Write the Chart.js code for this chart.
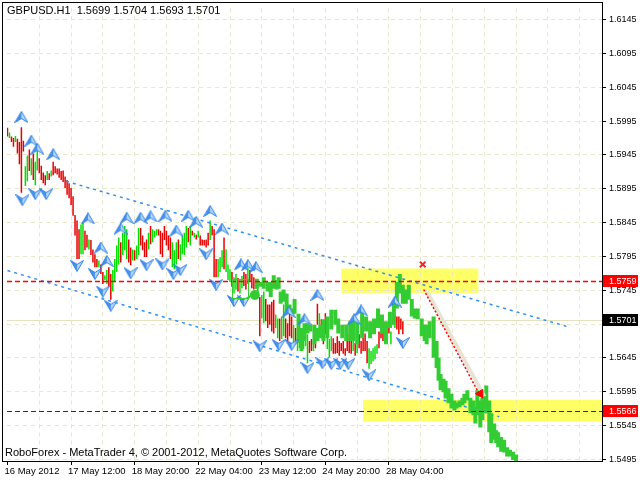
<!DOCTYPE html>
<html>
<head>
<meta charset="utf-8">
<script src="https://cdn.jsdelivr.net/npm/chart.js@4.4.0/dist/chart.umd.min.js"></script>
<style>
  html, body { margin: 0; padding: 0; background: #fff; }
</style>
</head>
<body>
<canvas id="myChart" width="640" height="480"></canvas>
<script>
// GBPUSD H1 bars, one per hour (bar index = hour)
var highs = [
  1.5985,1.5978,1.5972,1.5970,1.5973,1.5969,1.5964,1.5986,1.5966,1.5928,
  1.5944,1.5953,1.5940,1.5947,1.5935,1.5951,1.5940,1.5929,1.5919,1.5915,
  1.5921,1.5918,1.5922,1.5935,1.5928,1.5925,1.5925,1.5921,1.5922,1.5913,
  1.5908,1.5903,1.5896,1.5884,1.5856,1.5848,1.5835,1.5842,1.5845,1.5833,
  1.5827,1.5820,1.5819,1.5805,1.5798,1.5791,1.5789,1.5783,1.5772,1.5767,
  1.5775,1.5779,1.5769,1.5775,1.5791,1.5811,1.5823,1.5816,1.5830,1.5840,
  1.5835,1.5820,1.5808,1.5805,1.5804,1.5811,1.5837,1.5837,1.5826,1.5816,
  1.5820,1.5830,1.5840,1.5835,1.5833,1.5835,1.5835,1.5833,1.5830,1.5840,
  1.5833,1.5826,1.5823,1.5816,1.5804,1.5816,1.5820,1.5813,1.5826,1.5830,
  1.5840,1.5837,1.5840,1.5833,1.5830,1.5827,1.5833,1.5826,1.5820,1.5819,
  1.5820,1.5830,1.5848,1.5840,1.5835,1.5791,1.5791,1.5794,1.5804,1.5823,
  1.5805,1.5783,1.5776,1.5772,1.5764,1.5769,1.5763,1.5760,1.5766,1.5772,
  1.5769,1.5778,1.5775,1.5769,1.5764,1.5761,1.5757,1.5735,1.5738,1.5743,
  1.5732,1.5724,1.5724,1.5728,1.5731,1.5709,1.5703,1.5703,1.5706,1.5724,
  1.5703,1.5696,1.5713,1.5706,1.5694,1.5689,1.5684,1.5680,1.5677,1.5680,
  1.5684,1.5680,1.5670,1.5673,1.5670,1.5677,1.5725,1.5711,1.5702,1.5699,
  1.5711,1.5687,1.5673,1.5677,1.5674,1.5667,1.5677,1.5670,1.5667,1.5670,
  1.5659,1.5670,1.5680,1.5670,1.5670,1.5667,1.5670,1.5680,1.5670,1.5687,
  1.5681,1.5670,1.5659,1.5655,1.5659,1.5662,1.5665,1.5684,1.5694,1.5696,
  1.5692,1.5692,1.5692,1.5684,1.5718,1.5709,1.5706,1.5706,1.5703,1.5699
];
var lows = [
  1.5972,1.5970,1.5964,1.5957,1.5964,1.5947,1.5931,1.5889,1.5950,1.5899,
  1.5906,1.5921,1.5915,1.5908,1.5900,1.5922,1.5918,1.5908,1.5903,1.5900,
  1.5908,1.5908,1.5913,1.5915,1.5918,1.5916,1.5911,1.5908,1.5905,1.5896,
  1.5886,1.5881,1.5871,1.5855,1.5826,1.5791,1.5791,1.5798,1.5798,1.5804,
  1.5808,1.5805,1.5797,1.5786,1.5779,1.5779,1.5779,1.5769,1.5754,1.5760,
  1.5754,1.5750,1.5731,1.5743,1.5757,1.5772,1.5783,1.5786,1.5797,1.5804,
  1.5791,1.5786,1.5782,1.5789,1.5789,1.5791,1.5797,1.5811,1.5804,1.5794,
  1.5794,1.5805,1.5813,1.5816,1.5823,1.5826,1.5826,1.5798,1.5794,1.5819,
  1.5811,1.5804,1.5791,1.5779,1.5776,1.5783,1.5791,1.5789,1.5798,1.5797,
  1.5808,1.5816,1.5811,1.5826,1.5823,1.5820,1.5823,1.5811,1.5811,1.5811,
  1.5808,1.5811,1.5819,1.5826,1.5764,1.5764,1.5764,1.5772,1.5779,1.5776,
  1.5772,1.5760,1.5757,1.5750,1.5740,1.5746,1.5743,1.5740,1.5748,1.5751,
  1.5746,1.5754,1.5757,1.5748,1.5746,1.5747,1.5735,1.5677,1.5703,1.5696,
  1.5699,1.5689,1.5694,1.5684,1.5681,1.5689,1.5674,1.5670,1.5673,1.5677,
  1.5674,1.5670,1.5677,1.5674,1.5665,1.5665,1.5655,1.5659,1.5655,1.5658,
  1.5662,1.5637,1.5652,1.5655,1.5655,1.5659,1.5694,1.5689,1.5680,1.5665,
  1.5680,1.5658,1.5645,1.5655,1.5651,1.5651,1.5652,1.5648,1.5655,1.5651,
  1.5648,1.5655,1.5652,1.5651,1.5655,1.5648,1.5652,1.5659,1.5651,1.5655,
  1.5655,1.5637,1.5629,1.5636,1.5640,1.5643,1.5651,1.5659,1.5674,1.5670,
  1.5677,1.5681,1.5681,1.5665,1.5699,1.5689,1.5687,1.5680,1.5687,1.5680
];
// g = bar closed up, r = closed down
var dirs = "rgrrgrrrrg" + "grgrggrrrr" + "grgrrrrrrr" + "rrrrrrrggr" + "rgrrrrgrrg" +
           "grrggggrgg" + "grrgrggrrr" + "rgrgggrrrr" + "rrrgggrggg" + "grgrgrgrrr" +
           "rrgrrrgggr" + "gggrggrggr" + "rgrrrggrgg" + "rrrrrggrgg" + "rrrrgrggrg" +
           "ggrrgrrgrr" + "rgggrrrrrr" + "rrrrgrgrrr" + "rrgggggrrr" + "rrrgggrrrr";

// forecast path (thick green)
var pathBars = [125.5,127.5,129,131,132.5,134,135.5,136.5,137.5,139,
  140.5,142,143.5,144.5,146.5,148,149.5,151,152.5,154.5,
  156,157.5,159,161,163,165,166.5,168.5,170.5,172.5,
  174,176,178.5,180.5,182.5,184.5,186.5,188.5,190.5,192.5,
  194.5,196,197.5,199,200.5,202,203.5,205,206.5,208.5,
  210,211,212.5,214.5,216,217,218,219.5,220.5,222,
  223.5,225,226,227.5,229,230,231.5,233,234.5,235.5,
  236.5,238,239,240,241,242.5,243.5,245,246,247,
  248.5,250,251.5,253,254.5,256];
var pathHigh = [1.5762,1.5757,1.5764,1.5757,1.5757,1.5767,1.5760,1.5764,1.5743,1.5746,
  1.5740,1.5724,1.5718,1.5732,1.5710,1.5689,1.5696,1.5696,1.5694,1.5694,
  1.5689,1.5694,1.5702,1.5706,1.5716,1.5716,1.5703,1.5694,1.5694,1.5699,
  1.5703,1.5699,1.5718,1.5706,1.5699,1.5703,1.5718,1.5709,1.5699,1.5713,
  1.5728,1.5757,1.5769,1.5753,1.5746,1.5753,1.5732,1.5718,1.5718,1.5703,
  1.5694,1.5694,1.5699,1.5706,1.5670,1.5645,1.5621,1.5614,1.5611,1.5600,
  1.5592,1.5582,1.5579,1.5582,1.5586,1.5592,1.5597,1.5586,1.5582,1.5572,
  1.5597,1.5582,1.5586,1.5594,1.5604,1.5582,1.5563,1.5548,1.5538,1.5535,
  1.5528,1.5524,1.5513,1.5509,1.5506,1.5502];
var pathLow = [1.5747,1.5750,1.5747,1.5743,1.5735,1.5747,1.5746,1.5747,1.5725,1.5728,
  1.5710,1.5710,1.5709,1.5710,1.5667,1.5655,1.5670,1.5681,1.5684,1.5665,
  1.5670,1.5674,1.5670,1.5674,1.5687,1.5694,1.5681,1.5674,1.5670,1.5670,
  1.5670,1.5665,1.5674,1.5684,1.5674,1.5680,1.5689,1.5681,1.5665,1.5689,
  1.5694,1.5718,1.5740,1.5725,1.5725,1.5731,1.5706,1.5703,1.5702,1.5677,
  1.5670,1.5665,1.5674,1.5645,1.5630,1.5611,1.5597,1.5594,1.5585,1.5578,
  1.5570,1.5567,1.5570,1.5572,1.5575,1.5578,1.5582,1.5563,1.5560,1.5548,
  1.5560,1.5542,1.5553,1.5567,1.5564,1.5535,1.5519,1.5524,1.5519,1.5513,
  1.5506,1.5505,1.5499,1.5499,1.5494,1.5487];

// fractal arrows
var upBars   = [7,12,15,23,40.5,47,50,57,60,67,72,79.5,85,91,95,102,108,117.5,121,125,141.5,149.5,156,174.5,178,195];
var upPrices = [1.6001,1.5966,1.5954,1.5946,1.5851,1.5808,1.5788,1.5836,1.5852,1.5852,1.5854,1.5855,1.5833,1.5855,1.5846,1.5862,1.5836,1.5783,1.5782,1.5779,1.5713,1.5702,1.5738,1.5702,1.5715,1.5728];
var downBars   = [7.5,14,19.5,35,44,48,52,62,70,78,83.5,87,100,105,114,119,127,136.5,143,151,158.5,163,167.5,171.5,182,199];
var downPrices = [1.5878,1.5887,1.5887,1.5781,1.5769,1.5743,1.5722,1.5770,1.5782,1.5783,1.5769,1.5775,1.5798,1.5753,1.5729,1.5729,1.5662,1.5664,1.5664,1.5630,1.5637,1.5636,1.5636,1.5636,1.5619,1.5667];

// channel and forecast lines [bar, price]
var upperChannel = [[29.5, 1.5906], [282, 1.5691]];
var lowerChannel = [[0, 1.5774], [247.5, 1.5558]];
var forecastArrow = [[209.5, 1.5746], [237, 1.5594]];
var arrowShadow = [[211, 1.5744], [240, 1.5588]];
var arrowHead = [238, 1.5592];
var crossMark = [209, 1.5783];
var signalDot = [124.5, 1.5738];

// zones [barFrom, barTo, priceTop, priceBottom]
var resistZone = [168, 237, 1.5777, 1.5741];
var supportZone = [179, 299.25, 1.5583, 1.5551];
var iconBox = [113, 121, 1.5762, 1.5734];

var resistLevel = 1.5759;
var supportLevel = 1.5566;
var bidPrice = 1.5701;

var priceTicks = [1.5495,1.5545,1.5595,1.5645,1.5695,1.5745,1.5795,1.5845,1.5895,1.5945,1.5995,1.6045,1.6095,1.6145];
var gridBars = [16,32,48,64,80,96,112,128,144,160,176,192,208,224,240,256,272,288];
var timeBars = [0,32,64,96,128,160,192];
var timeLabels = ["16 May 2012","17 May 12:00","18 May 20:00","22 May 04:00","23 May 12:00","24 May 20:00","28 May 04:00"];

var titleText = "GBPUSD.H1  1.5699 1.5704 1.5693 1.5701";
var footerText = "RoboForex - MetaTrader 4, \u00A9 2001-2012, MetaQuotes Software Corp.";

var FONT = "'Liberation Sans', Arial, sans-serif";

function makeArrow(up) {
    var c = document.createElement('canvas');
    c.width = 14; c.height = 12;
    var g = c.getContext('2d');
    if (!up) { g.translate(0, 12); g.scale(1, -1); }
    g.beginPath(); g.moveTo(7, 0.5); g.lineTo(0.5, 11.5); g.lineTo(7, 7.5); g.closePath();
    g.fillStyle = '#4a92ec'; g.fill();
    g.beginPath(); g.moveTo(7, 0.5); g.lineTo(13.5, 11.5); g.lineTo(7, 7.5); g.closePath();
    g.fillStyle = '#b4d8ff'; g.fill();
    g.strokeStyle = '#2f80e4'; g.lineWidth = 1;
    g.beginPath(); g.moveTo(7, 0.5); g.lineTo(0.5, 11.5); g.lineTo(7, 7.5); g.lineTo(13.5, 11.5); g.closePath(); g.stroke();
    return c;
}

var candleData = highs.map(function(h, i) { return {x: i, y: [lows[i], h]}; });
var candleColors = dirs.split('').map(function(c) { return c === 'g' ? '#00e000' : '#e80000'; });
var pathData = pathBars.map(function(b, i) { return {x: b, y: [pathLow[i], pathHigh[i]]}; });
function pts(arr) { return arr.map(function(p) { return {x: p[0], y: p[1]}; }); }

var mt4Plugin = {
    id: 'mt4',
    beforeDraw: function(chart) {
        var c = chart.ctx, x = chart.scales.x, y = chart.scales.y;
        c.save();
        c.fillStyle = '#ffff66';
        [resistZone, supportZone].forEach(function(z) {
            var x1 = x.getPixelForValue(z[0]), x2 = x.getPixelForValue(z[1]);
            var y1 = y.getPixelForValue(z[2]), y2 = y.getPixelForValue(z[3]);
            c.fillRect(x1, y1, x2 - x1, y2 - y1);
        });
        c.restore();
    },
    beforeDatasetsDraw: function(chart) {
        var c = chart.ctx, a = chart.chartArea, y = chart.scales.y;
        var py = Math.round(y.getPixelForValue(bidPrice)) + 0.5;
        c.save();
        c.strokeStyle = '#e2e2c0';
        c.lineWidth = 1;
        c.beginPath(); c.moveTo(a.left, py); c.lineTo(a.right, py); c.stroke();
        c.restore();
    },
    afterDatasetsDraw: function(chart) {
        var c = chart.ctx, a = chart.chartArea, x = chart.scales.x, y = chart.scales.y;
        c.save();
        c.setLineDash([5, 3]);
        [[resistLevel, '#ff0000', 1.5], [supportLevel, '#a00000', 1]].forEach(function(l) {
            var py = Math.round(y.getPixelForValue(l[0])) + 0.5;
            c.strokeStyle = l[1];
            c.lineWidth = l[2];
            c.beginPath(); c.moveTo(a.left, py); c.lineTo(a.right, py); c.stroke();
        });
        c.setLineDash([]);
        c.lineWidth = 1;
        // signal icon box
        var bx1 = x.getPixelForValue(iconBox[0]), bx2 = x.getPixelForValue(iconBox[1]);
        var by1 = y.getPixelForValue(iconBox[2]), by2 = y.getPixelForValue(iconBox[3]);
        c.strokeStyle = '#33cc33';
        c.strokeRect(Math.round(bx1) + 0.5, Math.round(by1) + 0.5, Math.round(bx2 - bx1), Math.round(by2 - by1));
        // frame
        c.strokeStyle = '#000';
        c.strokeRect(2.5, 2.5, a.right - 2, a.bottom - 2);
        c.restore();
    },
    afterDraw: function(chart) {
        var c = chart.ctx, a = chart.chartArea, y = chart.scales.y;
        c.save();
        c.font = '9px ' + FONT;
        c.textBaseline = 'middle';
        [[resistLevel, '#ff0000'], [bidPrice, '#000000'], [supportLevel, '#ff0000']].forEach(function(t) {
            var py = Math.round(y.getPixelForValue(t[0]));
            c.fillStyle = t[1];
            c.fillRect(a.right + 1, py - 6, 35, 12);
            c.fillStyle = '#fff';
            c.fillText(t[0].toFixed(4), a.right + 7, py + 0.5);
        });
        c.fillStyle = '#000';
        c.font = '11px ' + FONT;
        c.fillText(titleText, 7, 11);
        c.fillText(footerText, 5, 453);
        c.restore();
    }
};

var ctx = document.getElementById("myChart");

var chart = new Chart(ctx, {
    type: 'bar',
    data: {
        datasets: [
            {
                type: 'scatter', label: 'dot', order: 1,
                data: pts([signalDot]),
                backgroundColor: '#33cc33', borderWidth: 0, pointRadius: 5
            },
            {
                type: 'scatter', label: 'cross', order: 1,
                data: pts([crossMark]),
                pointStyle: 'crossRot', borderColor: '#ff2020', borderWidth: 2, pointRadius: 4
            },
            {
                type: 'scatter', label: 'head', order: 1,
                data: pts([arrowHead]),
                pointStyle: 'triangle', rotation: -90, backgroundColor: '#ff0000', borderColor: '#ff0000', borderWidth: 1, pointRadius: 5
            },
            {
                type: 'scatter', label: 'up', order: 2,
                data: upBars.map(function(b, i) { return {x: b, y: upPrices[i]}; }),
                pointStyle: makeArrow(true), pointRadius: 6
            },
            {
                type: 'scatter', label: 'down', order: 2,
                data: downBars.map(function(b, i) { return {x: b, y: downPrices[i]}; }),
                pointStyle: makeArrow(false), pointRadius: 6
            },
            {
                type: 'line', label: 'forecast', order: 3,
                data: pts(forecastArrow),
                borderColor: '#ff0000', borderWidth: 1.5, borderDash: [2, 2], pointRadius: 0
            },
            {
                type: 'line', label: 'shadow', order: 4,
                data: pts(arrowShadow),
                borderColor: '#e8e4d4', borderWidth: 4, pointRadius: 0
            },
            {
                type: 'bar', label: 'path', order: 5, grouped: false,
                data: pathData,
                backgroundColor: '#33cc33', barThickness: 4, inflateAmount: 0, borderWidth: 0
            },
            {
                type: 'line', label: 'upper', order: 6,
                data: pts(upperChannel),
                borderColor: '#3090f0', borderWidth: 1.5, borderDash: [3, 4], pointRadius: 0
            },
            {
                type: 'line', label: 'lower', order: 6,
                data: pts(lowerChannel),
                borderColor: '#3090f0', borderWidth: 1.5, borderDash: [3, 4], pointRadius: 0
            },
            {
                type: 'bar', label: 'GBPUSD', order: 7, grouped: false,
                data: candleData,
                backgroundColor: candleColors, barThickness: 1.5, inflateAmount: 0, borderWidth: 0
            }
        ]
    },
    options: {
        responsive: false,
        animation: false,
        events: [],
        layout: { padding: { left: 3, top: 3, right: 0, bottom: 0 } },
        plugins: { legend: { display: false }, tooltip: { enabled: false } },
        scales: {
            x: {
                type: 'linear', min: -0.25, max: 299.25, offset: false,
                afterBuildTicks: function(axis) {
                    axis.ticks = timeBars.concat(gridBars.filter(function(v) { return timeBars.indexOf(v) < 0; }))
                        .sort(function(a, b) { return a - b; })
                        .map(function(v) { return {value: v}; });
                },
                afterFit: function(axis) { axis.height = 19; },
                ticks: {
                    autoSkip: false, maxRotation: 0, align: 'start', padding: 1, labelOffset: -3,
                    color: '#000', font: { family: FONT, size: 9.5 },
                    callback: function(v) {
                        var k = timeBars.indexOf(v);
                        return k >= 0 ? timeLabels[k] : '';
                    }
                },
                grid: {
                    offset: false, tickLength: 4,
                    color: function(c) { return c.tick && c.tick.value > 0 ? '#e6e6c8' : 'rgba(0,0,0,0)'; },
                    tickColor: function(c) { return c.tick && timeBars.indexOf(c.tick.value) >= 0 ? '#000' : 'rgba(0,0,0,0)'; }
                },
                border: { display: false, dash: [4, 4] }
            },
            y: {
                position: 'right', min: 1.54925, max: 1.61615,
                afterBuildTicks: function(axis) {
                    axis.ticks = priceTicks.map(function(v) { return {value: v}; });
                },
                afterFit: function(axis) { axis.width = 38; },
                ticks: {
                    autoSkip: false, padding: 3, color: '#000', font: { family: FONT, size: 9 },
                    callback: function(v) { return v.toFixed(4); }
                },
                grid: { color: '#e6e6c8', tickColor: '#000', tickLength: 4 },
                border: { display: false, dash: [4, 4] }
            }
        }
    },
    plugins: [mt4Plugin]
});
</script>
</body>
</html>
